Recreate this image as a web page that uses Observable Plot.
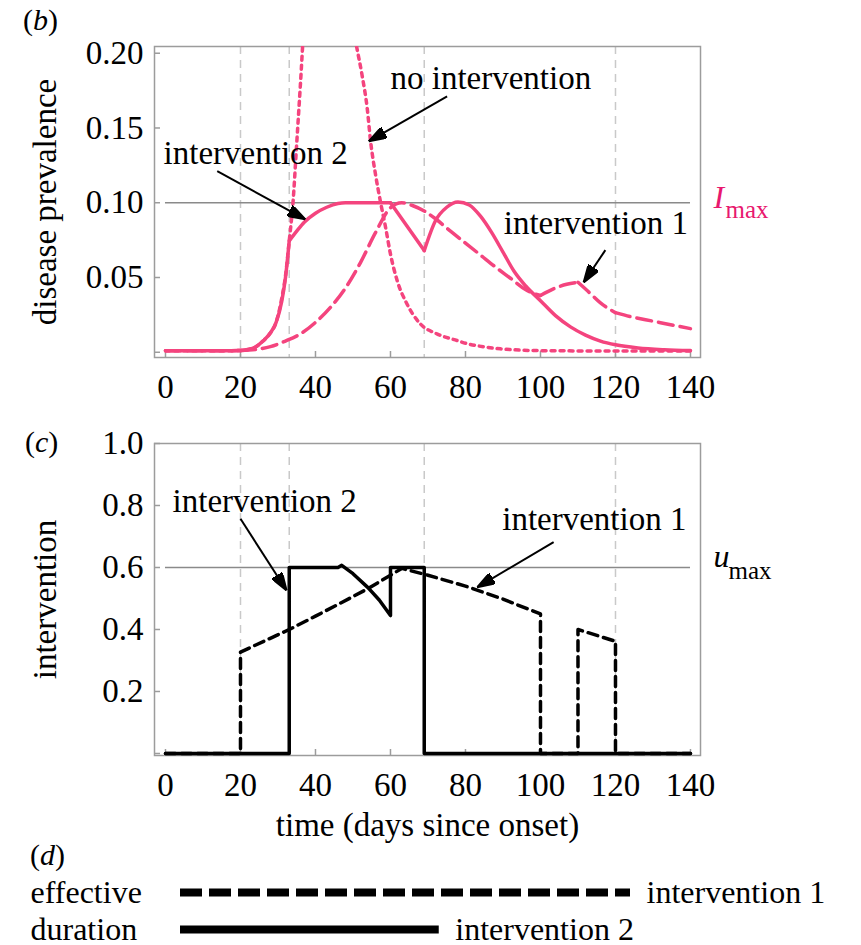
<!DOCTYPE html>
<html>
<head>
<meta charset="utf-8">
<script src="https://cdn.jsdelivr.net/npm/d3@7"></script>
<script src="https://cdn.jsdelivr.net/npm/@observablehq/plot@0.6"></script>
<style>
  html, body { margin: 0; padding: 0; background: #fff; overflow: hidden; }
  #chart { position: relative; width: 861px; height: 945px; font-family: "Liberation Serif", "Times New Roman", serif; color: #000; }
  #chart svg { position: absolute; left: 0; overflow: visible; }
  .tag { position: absolute; font-size: 30px; line-height: 1; }
  .tag i { font-style: italic; }
</style>
</head>
<body>
<div id="chart">
  <div class="tag" style="left:23px; top:5px;">(<i>b</i>)</div>
  <div class="tag" style="left:25px; top:427px;">(<i>c</i>)</div>
  <div class="tag" style="left:30px; top:840px;">(<i>d</i>)</div>
</div>
<script>
// ---- prevalence, no intervention (peak above 0.20 is clipped by the frame)
const dayNone  = [0, 5, 10, 15, 20, 22, 24, 26, 28, 29.5, 31, 32, 33, 34, 35, 36, 37, 38, 42, 46, 49, 51, 52.4, 53.8, 54.7, 56, 57.3, 58.7, 60, 61.8, 64.4, 68, 72.4, 77.8, 80.4, 85, 89.3, 95, 100, 110, 120, 130, 140];
const prevNone = [0.001, 0.001, 0.001, 0.001, 0.0012, 0.0018, 0.0035, 0.0075, 0.013, 0.020, 0.036, 0.051, 0.0745, 0.100, 0.140, 0.180, 0.222, 0.250, 0.290, 0.270, 0.232, 0.204, 0.1856, 0.163, 0.141, 0.119, 0.101, 0.0834, 0.0656, 0.0478, 0.0323, 0.0189, 0.0123, 0.0078, 0.0058, 0.0036, 0.0023, 0.0014, 0.0011, 0.0009, 0.0008, 0.0008, 0.0008];

// ---- prevalence under intervention 1 (dashed)
const dayInt1  = [0, 5, 10, 15, 20, 24, 28, 32, 36, 40, 44, 48, 52, 56, 60, 63, 66, 69, 72, 76, 80, 84, 88, 92, 96, 98, 100, 104, 107, 110, 113, 116, 120, 124, 128, 132, 136, 140];
const prevInt1 = [0.001, 0.001, 0.001, 0.001, 0.0012, 0.0018, 0.0038, 0.0075, 0.0123, 0.020, 0.030, 0.043, 0.060, 0.080, 0.0967, 0.100, 0.098, 0.0945, 0.0893, 0.081, 0.073, 0.065, 0.057, 0.0495, 0.042, 0.0395, 0.038, 0.043, 0.0455, 0.0468, 0.040, 0.033, 0.0265, 0.0238, 0.0218, 0.0198, 0.0178, 0.0158];
const kinksInt1 = [20, 100, 110, 120];

// ---- prevalence under intervention 2 (solid)
const dayInt2  = [0, 5, 10, 15, 20, 22, 24, 26, 28, 29.5, 31, 32, 33, 35, 37, 40, 43, 46, 48, 60, 69, 72, 75, 78, 81, 84, 87, 90, 93, 96, 100, 104, 108, 112, 116, 120, 126, 133, 140];
const prevInt2 = [0.001, 0.001, 0.001, 0.001, 0.0012, 0.0018, 0.0035, 0.0075, 0.013, 0.020, 0.034, 0.050, 0.0745, 0.081, 0.087, 0.093, 0.097, 0.0995, 0.100, 0.100, 0.068, 0.088, 0.097, 0.1005, 0.0985, 0.091, 0.080, 0.067, 0.054, 0.0445, 0.0345, 0.0245, 0.017, 0.0115, 0.0075, 0.005, 0.0029, 0.0017, 0.0011];
const kinksInt2 = [33, 60, 69];

// ---- control effort u(t)
const dayU1 = [0, 20, 20, 33, 40, 47, 54, 60, 63, 70, 80, 90, 100, 100, 110, 110, 120, 120, 140];
const u1    = [0, 0, 0.327, 0.40, 0.443, 0.487, 0.532, 0.575, 0.597, 0.575, 0.54, 0.498, 0.45, 0, 0, 0.40, 0.362, 0, 0];
const dayU2 = [0, 33, 33, 46, 47, 50, 54, 57, 60, 60, 69, 69, 140];
const u2    = [0, 0, 0.6, 0.6, 0.607, 0.58, 0.535, 0.495, 0.445, 0.6, 0.6, 0, 0];

// ---- thresholds, switch times, ticks
const Imax = 0.10;
const umax = 0.6;
const switchDays = [20, 33, 69, 120];
const dayTicks = [0, 20, 40, 60, 80, 100, 120, 140];
const prevTicks = [0, 0.05, 0.10, 0.15, 0.20];
const uTicks = [0, 0.2, 0.4, 0.6, 0.8, 1.0];

// ---- effective duration of each strategy
const durationNames = ["intervention 1", "intervention 2"];
const effectiveDuration = [120, 69];
const durationRowLabels = ["effective", "duration"];

// ---- callouts
const notesB = [
  {text: "intervention 2", day: -0.5, value: 0.1258},
  {text: "no intervention", day: 60, value: 0.1758},
  {text: "intervention 1", day: 90.2, value: 0.0791}
];
const pointersB = [
  {day1: 13.8, v1: 0.1211, day2: 37.3, v2: 0.0889},
  {day1: 75.1, v1: 0.1711, day2: 54.2, v2: 0.1411},
  {day1: 117.3, v1: 0.0683, day2: 111.5, v2: 0.0467}
];
const notesC = [
  {text: "intervention 2", day: 1.9, value: 0.778},
  {text: "intervention 1", day: 89.8, value: 0.7216}
];
const pointersC = [
  {day1: 20, v1: 0.757, day2: 32.3, v2: 0.526},
  {day1: 103.5, v1: 0.682, day2: 83.1, v2: 0.536}
];

// ---- styling
const pink = "#f4447e";
const pinkText = "#e8186e";
const gridGray = "#c9c9c9";
const frameGray = "#9c9c9c";
const refGray = "#8a8a8a";
const FONT = "'Liberation Serif', 'Times New Roman', serif";
const baseStyle = {fontFamily: FONT, fontSize: "33px", color: "black", background: "transparent"};
const xDomain = [-2.93, 142.67];

// rows of {day, value, seg}; a kink day starts a new segment so the smooth curve keeps its corner
function segmented(days, values, kinks = []) {
  const rows = [];
  let seg = 0;
  days.forEach((d, i) => {
    rows.push({day: d, value: values[i], seg});
    if (kinks.includes(d) && i > 0 && i < days.length - 1) {
      seg++;
      rows.push({day: d, value: values[i], seg});
    }
  });
  return rows;
}
const pairs = (days, values) => days.map((d, i) => ({day: d, value: values[i]}));

function filledHead(color, context) {
  const doc = (context && context.document) || document;
  const ns = "http://www.w3.org/2000/svg";
  const marker = doc.createElementNS(ns, "marker");
  marker.setAttribute("viewBox", "-18 -6 18 12");
  marker.setAttribute("markerWidth", "18");
  marker.setAttribute("markerHeight", "12");
  marker.setAttribute("markerUnits", "userSpaceOnUse");
  marker.setAttribute("refX", "0");
  marker.setAttribute("refY", "0");
  marker.setAttribute("orient", "auto");
  const path = doc.createElementNS(ns, "path");
  path.setAttribute("d", "M-18,-6L0,0L-18,6Z");
  path.setAttribute("fill", color || "black");
  marker.appendChild(path);
  return marker;
}

function pointer(data, filled) {
  const o = {x1: "day1", y1: "v1", x2: "day2", y2: "v2", stroke: "black", strokeWidth: 2};
  return filled
    ? Plot.link(data, {...o, markerEnd: filledHead})
    : Plot.arrow(data, {...o, headLength: 16, headAngle: 40});
}

function axesFor(yTicks, yFormat, yLabel, xLabel) {
  return [
    Plot.axisY(yTicks, {anchor: "left", tickSize: -6, tickFormat: () => "", label: null, stroke: frameGray, strokeWidth: 1.5}),
    Plot.axisY(yTicks, {anchor: "left", tickSize: 0, tickPadding: 11, tickFormat: yFormat, label: yLabel, labelAnchor: "center", labelArrow: "none", labelOffset: 122}),
    Plot.axisX(dayTicks, {anchor: "bottom", tickSize: -6, tickFormat: () => "", label: null, stroke: frameGray, strokeWidth: 1.5}),
    Plot.axisX(dayTicks, {anchor: "bottom", tickSize: 0, tickPadding: 17, label: xLabel, labelAnchor: "center", labelArrow: "none", labelOffset: 80})
  ];
}

function panelB(filled) {
  return Plot.plot({
    width: 861, height: 410,
    marginLeft: 154, marginRight: 161, marginTop: 46, marginBottom: 53,
    x: {domain: xDomain},
    y: {domain: [-0.0035, 0.2045]},
    style: baseStyle,
    marks: [
      Plot.ruleX(switchDays, {stroke: gridGray, strokeWidth: 1.5, strokeDasharray: "8,6"}),
      Plot.ruleY([Imax], {x1: dayInt2[0], x2: dayInt2[dayInt2.length - 1], stroke: refGray, strokeWidth: 1.5}),
      Plot.frame({stroke: frameGray, strokeWidth: 1.5}),
      ...axesFor(prevTicks, d => d === 0 ? "" : d.toFixed(2), "disease prevalence", null),
      Plot.line(pairs(dayNone, prevNone), {x: "day", y: "value", curve: "monotone-x", stroke: pink, strokeWidth: 3.5, strokeDasharray: "4,5", clip: true}),
      Plot.line(segmented(dayInt1, prevInt1, kinksInt1), {x: "day", y: "value", z: "seg", curve: "monotone-x", stroke: pink, strokeWidth: 3.5, strokeDasharray: "15,7"}),
      Plot.line(segmented(dayInt2, prevInt2, kinksInt2), {x: "day", y: "value", z: "seg", curve: "monotone-x", stroke: pink, strokeWidth: 3.5}),
      Plot.text(notesB, {x: "day", y: "value", text: "text", textAnchor: "start", lineAnchor: "bottom", fill: "black", fontSize: 33}),
      pointer(pointersB, filled),
      Plot.text([Imax], {x: () => dayInt2[dayInt2.length - 1], y: d => d, text: () => "I", dx: 23, dy: 5, textAnchor: "start", lineAnchor: "bottom", fontStyle: "italic", fontSize: 32, fill: pinkText}),
      Plot.text([Imax], {x: () => dayInt2[dayInt2.length - 1], y: d => d, text: () => "max", dx: 35, dy: 15, textAnchor: "start", lineAnchor: "bottom", fontSize: 25, fill: pinkText})
    ]
  });
}

function panelC(filled) {
  return Plot.plot({
    width: 861, height: 435,
    marginLeft: 154, marginRight: 161, marginTop: 33, marginBottom: 90,
    x: {domain: xDomain},
    y: {domain: [-0.0065, 1.0]},
    style: baseStyle,
    marks: [
      Plot.ruleX(switchDays, {stroke: gridGray, strokeWidth: 1.5, strokeDasharray: "8,6"}),
      Plot.ruleY([umax], {x1: dayU2[0], x2: dayU2[dayU2.length - 1], stroke: refGray, strokeWidth: 1.5}),
      Plot.frame({stroke: frameGray, strokeWidth: 1.5}),
      ...axesFor(uTicks, d => d === 0 ? "" : d.toFixed(1), "intervention", "time (days since onset)"),
      Plot.line(pairs(dayU1, u1), {x: "day", y: "value", stroke: "black", strokeWidth: 3.5, strokeDasharray: "10,6"}),
      Plot.line(pairs(dayU2, u2), {x: "day", y: "value", stroke: "black", strokeWidth: 3.5}),
      Plot.text(notesC, {x: "day", y: "value", text: "text", textAnchor: "start", lineAnchor: "bottom", fill: "black", fontSize: 33}),
      pointer(pointersC, filled),
      Plot.text([umax], {x: () => dayU2[dayU2.length - 1], y: d => d, text: () => "u", dx: 23, dy: 0, textAnchor: "start", lineAnchor: "bottom", fontStyle: "italic", fontSize: 32, fill: "black"}),
      Plot.text([umax], {x: () => dayU2[dayU2.length - 1], y: d => d, text: () => "max", dx: 38, dy: 12, textAnchor: "start", lineAnchor: "bottom", fontSize: 25, fill: "black"})
    ]
  });
}

function panelD() {
  const rows = durationNames.map((name, i) => ({name, value: effectiveDuration[i], row: durationRowLabels[i]}));
  return Plot.plot({
    width: 861, height: 100,
    marginLeft: 180, marginRight: 231, marginTop: 0, marginBottom: 0,
    x: {domain: [0, 120], axis: null},
    y: {type: "point", domain: durationNames, range: [47, 84], padding: 0, axis: null},
    style: baseStyle,
    marks: [
      Plot.ruleY(rows.filter(d => d.name === durationNames[0]), {y: "name", x1: 0, x2: "value", stroke: "black", strokeWidth: 8, strokeDasharray: "22,7"}),
      Plot.ruleY(rows.filter(d => d.name === durationNames[1]), {y: "name", x1: 0, x2: "value", stroke: "black", strokeWidth: 8}),
      Plot.text(rows, {x: "value", y: "name", text: "name", dx: 16, textAnchor: "start", fill: "black", fontSize: 32}),
      Plot.text(rows, {y: "name", text: "row", frameAnchor: "left", dx: -150, textAnchor: "start", fill: "black", fontSize: 32})
    ]
  });
}

function build(filled) {
  return [panelB(filled), panelC(filled), panelD()];
}

let svgs;
try { svgs = build(true); } catch (e) { svgs = build(false); }
const tops = [0, 410, 845];
const chart = document.getElementById("chart");
svgs.forEach((svg, i) => {
  svg.style.top = tops[i] + "px";
  chart.insertBefore(svg, chart.firstChild);
});
</script>
</body>
</html>
